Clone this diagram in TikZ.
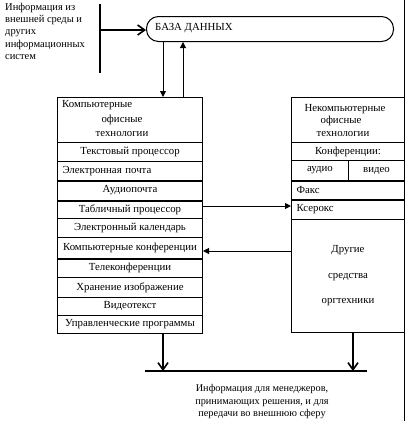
\documentclass[tikz,border=0pt]{standalone}
\usepackage{fontspec}
\setmainfont{Liberation Serif}
\usetikzlibrary{arrows.meta,calc}
\begin{document}
\begin{tikzpicture}[x=1pt,y=-1pt,
  txt/.style={font=\fontsize{10.8}{12}\selectfont,inner sep=0pt},
  cell/.style={draw,line width=1pt,inner sep=0pt,anchor=north west,txt},
  lcell/.style={cell,text width=135pt,inner xsep=5pt,align=left},
  rlcell/.style={cell,text width=103pt,inner xsep=5pt,align=left},
  sep/.style={line width=2pt},
  thin/.style={line width=1pt},
  fill arrow/.style={thin,-{Triangle[length=6pt,width=6pt]}},
  open arrow/.style={line width=1.6pt,-{Straight Barb[length=7pt,width=10pt]}}]
\useasboundingbox (0,0) rectangle (407,421);
% page line at right
\coordinate (pt) at (404,0);
\coordinate (pb) at (404,421);
\draw[thin] (pt) -- (pb);
% external info
\node[txt,anchor=north west,align=left,font=\fontsize{10.5}{12.2}\selectfont] (ext) at (5,3)
  {Информация из\\внешней среды и\\других\\информационных\\систем};
\coordinate (vt) at (100,4);
\coordinate (vb) at (100,73);
\draw[sep] (vt) -- (vb);
% database
\node[draw,thin,rounded corners=12pt,minimum width=247pt,minimum height=25pt,inner sep=0pt,anchor=north west] (db) at (146,16) {};
\node[txt,anchor=west] (dbt) at (155,28.5) {БАЗА ДАННЫХ};
\coordinate (vin) at (100,30);
\draw[open arrow] (vin) -- (vin -| db.west);
% left box
\node[cell,minimum width=145pt,minimum height=45pt] (lh) at (57,97) {};
\node[txt,anchor=west] (lh1) at (62,105) {Компьютерные};
\node[txt] (lh2) at (122,120) {офисные};
\node[txt] (lh3) at (122,134) {технологии};
\node[cell,minimum width=145pt,minimum height=19pt] (l1) at (57,142) {Текстовый процессор};
\node[lcell,minimum width=145pt,minimum height=19pt] (l2) at (57,161) {Электронная почта};
\node[cell,minimum width=145pt,minimum height=20pt] (l3) at (57,180) {Аудиопочта};
\node[cell,minimum width=145pt,minimum height=18pt] (l4) at (57,200) {Табличный процессор};
\node[cell,minimum width=145pt,minimum height=19pt] (l5) at (57,218) {Электронный календарь};
\node[cell,minimum width=145pt,minimum height=21pt] (l6) at (57,237) {Компьютерные конференции};
\node[cell,minimum width=145pt,minimum height=19pt] (l7) at (57,258) {Телеконференции};
\node[cell,minimum width=145pt,minimum height=20pt] (l8) at (57,277) {Хранение изображение};
\node[cell,minimum width=145pt,minimum height=18pt] (l9) at (57,297) {Видеотекст};
\node[cell,minimum width=145pt,minimum height=18pt] (l10) at (57,315) {Управленческие программы};
\draw[sep] (l2.south west) -- (l2.south east);
\draw[sep] (l3.south west) -- (l3.south east);
\draw[sep] (l6.south west) -- (l6.south east);
% right box
\node[cell,minimum width=113pt,minimum height=45pt] (rh) at (291,97) {};
\node[txt] (rh1) at (345,109) {Некомпьютерные};
\node[txt] (rh2) at (341,121) {офисные};
\node[txt] (rh3) at (343,134) {технологии};
\node[cell,minimum width=113pt,minimum height=18pt] (r1) at (291,142) {Конференции:};
\node[cell,minimum width=57pt,minimum height=20pt] (r2a) at (291,160) {аудио};
\node[cell,minimum width=56pt,minimum height=20pt] (r2b) at (348,160) {видео};
\node[rlcell,minimum width=113pt,minimum height=19pt] (r3) at (291,180) {Факс};
\node[rlcell,minimum width=113pt,minimum height=20pt] (r4) at (291,199) {Ксерокс};
\node[cell,minimum width=113pt,minimum height=113pt,align=center,font=\fontsize{10.8}{25.5}\selectfont] (r5) at (291,219) {Другие\\средства\\оргтехники};
\draw[sep] (r2a.south west) -- (r2b.south east);
\draw[sep] (r3.south west) -- (r3.south east);
% database links
\coordinate (x1) at (163,0);
\coordinate (x2) at (183,0);
\draw[fill arrow] (x1 |- db.south) -- (x1 |- lh.north);
\draw[fill arrow] (x2 |- lh.north) -- (x2 |- db.south);
% links between boxes
\coordinate (y1) at (0,206);
\coordinate (y2) at (0,251);
\draw[fill arrow] (y1 -| l4.east) -- (y1 -| r4.west);
\draw[fill arrow] (y2 -| r5.west) -- (y2 -| l6.east);
% output
\coordinate (hl) at (145,371);
\coordinate (hr) at (367,371);
\draw[sep] (hl) -- (hr);
\coordinate (x3) at (163,0);
\coordinate (x4) at (353,0);
\draw[open arrow] (x3 |- l10.south) -- (x3 |- hl);
\draw[open arrow] (x4 |- r5.south) -- (x4 |- hl);
\node[txt,align=center,font=\fontsize{10.3}{12.5}\selectfont] (out) at (262,402)
  {Информация для менеджеров,\\принимающих решения, и для\\передачи во внешнюю сферу};
\end{tikzpicture}
\end{document}
